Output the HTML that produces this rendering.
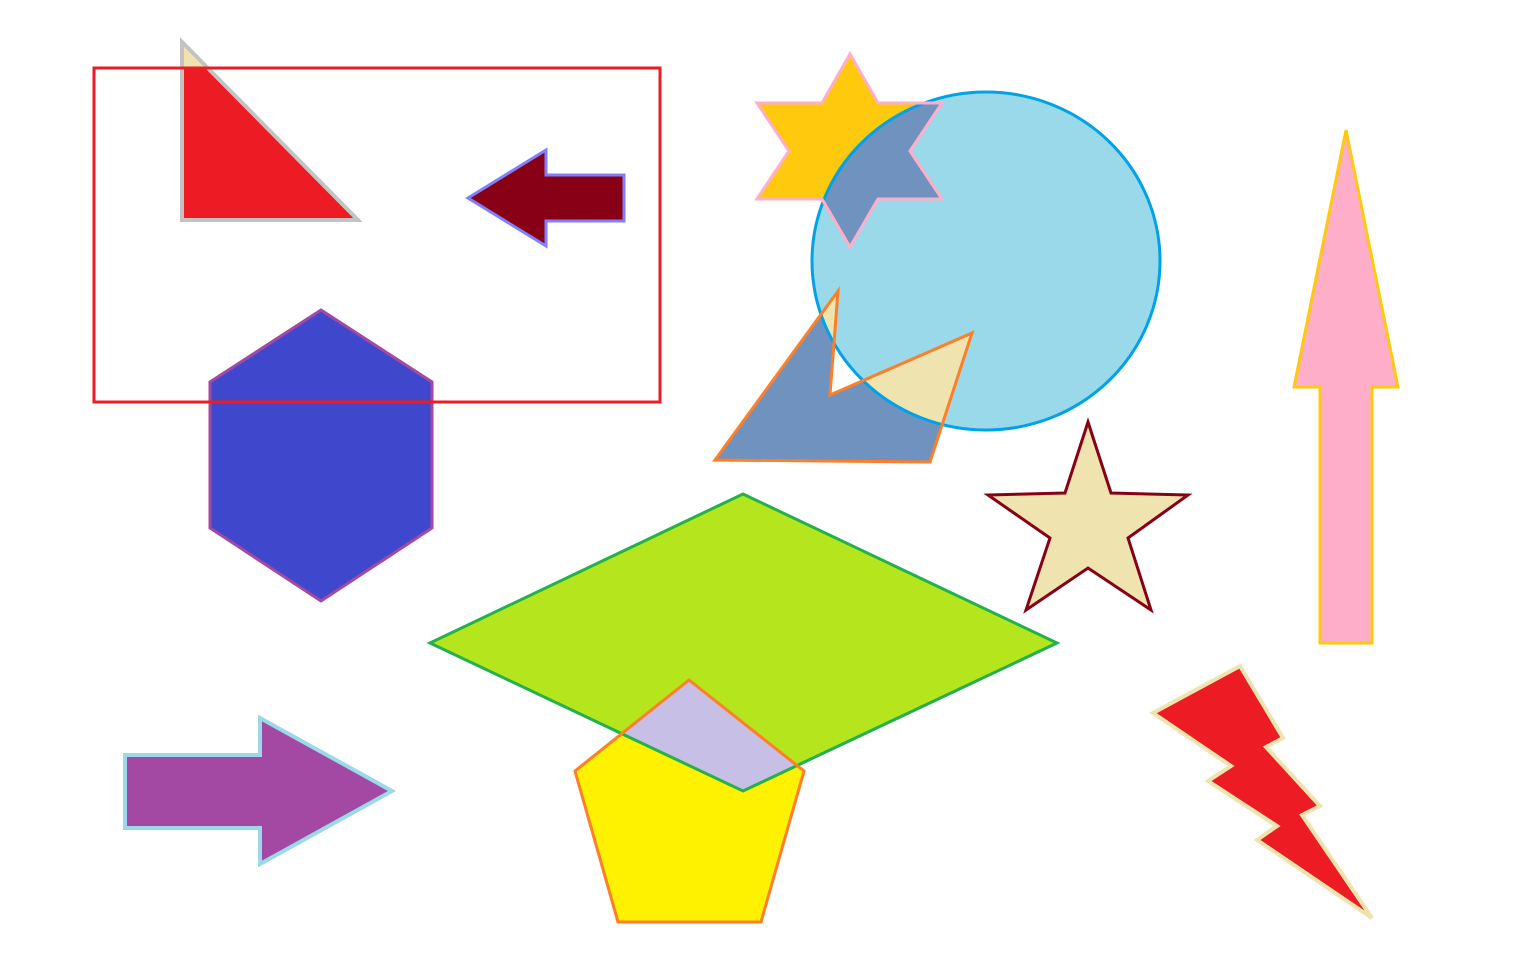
<!DOCTYPE html>
<html><head><meta charset="utf-8"><style>html,body{margin:0;padding:0;background:#fff}svg{display:block}</style></head>
<body>
<svg width="1536" height="960" viewBox="0 0 1536 960">
<defs>
<clipPath id="rectClip"><rect x="94" y="68" width="566" height="334"/></clipPath>
<clipPath id="circClip"><ellipse cx="986" cy="261" rx="174" ry="169"/></clipPath>
<clipPath id="diaClip"><polygon points="743,494 1057,643 743,791 430,643"/></clipPath>
</defs>
<g stroke-linejoin="miter" stroke-width="4">
<!-- triangle -->
<polygon points="182,42 182,220 358,220" fill="#EFE4B0" stroke="none"/>
<polygon points="182,42 182,220 358,220" fill="#ED1C24" stroke="none" clip-path="url(#rectClip)"/>
<polygon points="182,42 182,220 358,220" fill="none" stroke="#C3C3C3"/>
<!-- hexagon -->
<polygon points="321,310 432,382 432,528 321,601 210,528 210,382" fill="#3F48CC" stroke="#A349A4" stroke-width="3"/>
<!-- rect outline -->
<rect x="94" y="68" width="566" height="334" fill="none" stroke="#ED1C24" stroke-width="3"/>
<!-- left arrow -->
<polygon points="468,198 546,150 546,175 624,175 624,221 546,221 546,246" fill="#880015" stroke="#7F7FFF" stroke-width="3"/>
<!-- circle -->
<ellipse cx="986" cy="261" rx="174" ry="169" fill="#99D9EA" stroke="none"/>
<!-- hexagram -->
<polygon points="850,54 878,103 942,103 910,151 942,199 878,199 850,247 822,199 757,199 789,151 757,103 822,103" fill="#FFC90E" stroke="none"/>
<polygon points="850,54 878,103 942,103 910,151 942,199 878,199 850,247 822,199 757,199 789,151 757,103 822,103" fill="#7092BE" stroke="none" clip-path="url(#circClip)"/>
<!-- odd quad -->
<polygon points="838,291 830,395 972,333 930,462 715,460" fill="#7092BE" stroke="none"/>
<polygon points="838,291 830,395 972,333 930,462 715,460" fill="#EFE4B0" stroke="none" clip-path="url(#circClip)"/>
<ellipse cx="986" cy="261" rx="174" ry="169" fill="none" stroke="#00A2E8" stroke-width="3"/>
<polygon points="850,54 878,103 942,103 910,151 942,199 878,199 850,247 822,199 757,199 789,151 757,103 822,103" fill="none" stroke="#FFAEC9" stroke-width="3"/>
<polygon points="838,291 830,395 972,333 930,462 715,460" fill="none" stroke="#FF7F27" stroke-width="3"/>
<!-- up arrow -->
<polygon points="1346,130 1398,387 1372,387 1372,643 1320,643 1320,387 1294,387" fill="#FFAEC9" stroke="#FFC90E" stroke-width="3"/>
<!-- star -->
<polygon points="1088,422 1111,493 1188,495 1128,538 1151,610 1088,568 1026,610 1050,538 988,495 1065,493" fill="#EFE4B0" stroke="#880015" stroke-width="3"/>
<!-- diamond and pentagon -->
<polygon points="743,494 1057,643 743,791 430,643" fill="#B5E61D" stroke="none"/>
<polygon points="689,680 804,771 761,922 618,922 575,771" fill="#FFF200" stroke="none"/>
<polygon points="689,680 804,771 761,922 618,922 575,771" fill="#C8BFE7" stroke="none" clip-path="url(#diaClip)"/>
<polygon points="743,494 1057,643 743,791 430,643" fill="none" stroke="#22B14C" stroke-width="3"/>
<polygon points="689,680 804,771 761,922 618,922 575,771" fill="none" stroke="#FF7F27" stroke-width="3"/>
<!-- right arrow -->
<polygon points="125,755 260,755 260,718 392,791 260,864 260,828 125,828" fill="#A349A4" stroke="#99D9EA" stroke-width="4"/>
<!-- lightning -->
<polygon points="1153,713 1240,666 1283,738 1266,747 1320,806 1302,815 1372,918 1257,840 1277,826 1208,781 1231,766" fill="#ED1C24" stroke="#EFE4B0" stroke-width="4"/>
</g>
</svg>
</body></html>
